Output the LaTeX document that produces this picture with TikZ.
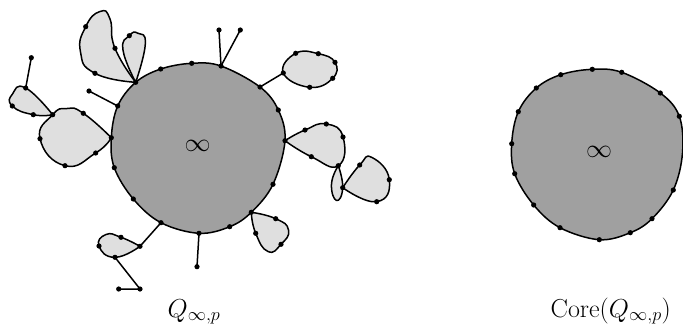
\RequirePackage{fix-cm}
\documentclass[tikz,border=0pt]{standalone}
\definecolor{blobgray}{RGB}{160,160,160}
\definecolor{lobegray}{RGB}{223,223,223}
\begin{document}
\begin{tikzpicture}[x=1pt,y=-1pt,
  edge/.style={line width=1.5pt, line join=round, line cap=round},
  blob/.style={edge, fill=blobgray},
  lobe/.style={edge, fill=lobegray},
  lbl/.style={font=\fontsize{26}{31}\selectfont, inner sep=0pt}]
\useasboundingbox (0,0) rectangle (683,325);
% left core vertices
\coordinate (L1) at (191.7,63.3);
\coordinate (L2) at (221,66);
\coordinate (L3) at (260,87);
\coordinate (L4) at (278.3,110);
\coordinate (L5) at (285,140.7);
\coordinate (L6) at (273,184.3);
\coordinate (L7) at (251.3,212.3);
\coordinate (L8) at (229.7,226.7);
\coordinate (L9) at (199,233.3);
\coordinate (L10) at (161,222.7);
\coordinate (L11) at (133.3,199);
\coordinate (L12) at (114.3,167.7);
\coordinate (L13) at (111.3,137.7);
\coordinate (L14) at (117.7,106);
\coordinate (L15) at (135.7,82.3);
\coordinate (L16) at (160.7,69);
% spikes
\coordinate (S1) at (219,30);
\coordinate (S2) at (240.3,30);
\coordinate (S3) at (89,91);
\coordinate (S4) at (31.3,57.7);
\coordinate (S5) at (197,266.7);
\coordinate (S6) at (140,289);
\coordinate (S7) at (118.7,289);
% lobe A
\coordinate (A0) at (283.3,73);
\coordinate (A1) at (295.7,53.3);
\coordinate (A2) at (318.3,53.7);
\coordinate (A3) at (335,62.3);
\coordinate (A4) at (332.7,78.3);
\coordinate (A5) at (309.7,87.3);
% lobe B
\coordinate (B1) at (305,130);
\coordinate (B2) at (326.3,124);
\coordinate (B3) at (343,137);
\coordinate (B4) at (338.3,165.7);
\coordinate (B5) at (311.3,156.7);
% petal C, lobe D
\coordinate (C1) at (342.7,187.7);
\coordinate (D1) at (359.7,165);
\coordinate (D2) at (389.3,179.7);
\coordinate (D3) at (376.7,201.7);
% lobe E
\coordinate (E1) at (275.7,218.7);
\coordinate (E2) at (281,244.3);
\coordinate (E3) at (255.7,233.3);
% lobe F
\coordinate (F0) at (140,246.3);
\coordinate (F1) at (121,237.3);
\coordinate (F2) at (99,246);
\coordinate (F3) at (115,257.3);
% lobe G
\coordinate (G1) at (83.3,113.3);
\coordinate (G2) at (52.7,114.7);
\coordinate (G3) at (40,138.7);
\coordinate (G4) at (65,165.7);
\coordinate (G5) at (95.7,153);
% lobe H
\coordinate (H1) at (33.3,114.7);
\coordinate (H2) at (12.3,106);
\coordinate (H3) at (25.7,88);
% lobe I, petal J
\coordinate (I1) at (95,73.3);
\coordinate (I2) at (85.7,26.7);
\coordinate (I3) at (115,48.3);
\coordinate (J1) at (129.3,35.7);
% right core
\coordinate (R1) at (592.3,69.3);
\coordinate (R2) at (621.7,72.3);
\coordinate (R3) at (660.3,93);
\coordinate (R4) at (679.3,116.3);
\coordinate (R5) at (673.3,190);
\coordinate (R6) at (652,218.7);
\coordinate (R7) at (630.3,232.7);
\coordinate (R8) at (599.3,239.7);
\coordinate (R9) at (560,227.7);
\coordinate (R10) at (533.7,205);
\coordinate (R11) at (514.7,173.7);
\coordinate (R12) at (511.7,143.7);
\coordinate (R13) at (518.3,111.7);
\coordinate (R14) at (536.3,88);
\coordinate (R15) at (560.7,74.7);

% lobes
\draw[lobe] plot[smooth cycle, tension=0.8] coordinates {(A0) (A1) (A2) (A3) (A4) (A5)};
\draw[lobe] plot[smooth, tension=0.9] coordinates {(L5) (B1) (B2) (B3) (B4) (B5) (L5)};
\draw[lobe] plot[smooth, tension=0.9] coordinates {(B4) (331.5,184) (336.5,200.5) (C1) (B4)};
\draw[lobe] plot[smooth, tension=0.9] coordinates {(C1) (D1) (372,157.5) (D2) (D3) (C1)};
\draw[lobe] plot[smooth, tension=0.9] coordinates {(L7) (E1) (288.5,230) (E2) (268,251.5) (E3) (L7)};
\draw[lobe] plot[smooth, tension=0.9] coordinates {(F0) (F1) (106,234.5) (F2) (F3) (F0)};
\draw[lobe] plot[smooth, tension=0.9] coordinates {(L13) (G1) (67,108.5) (G2) (G3) (G4) (G5) (L13)};
\draw[lobe] plot[smooth, tension=0.9] coordinates {(G2) (H1) (H2) (12.5,94) (H3) (G2)};
\draw[lobe] plot[smooth, tension=0.9] coordinates {(L15) (I1) (80.5,52) (I2) (100,11.5) (110,19) (I3) (L15)};
\draw[lobe] plot[smooth, tension=0.9] coordinates {(L15) (123,50) (J1) (138,33.3) (145.3,44) (L15)};
% cores
\draw[blob] plot[smooth cycle, tension=0.6] coordinates {(L1) (L2) (L3) (L4) (L5) (L6) (L7) (L8) (L9) (L10) (L11) (L12) (L13) (L14) (L15) (L16)};
\draw[blob] plot[smooth cycle, tension=0.6] coordinates {(R1) (R2) (R3) (R4) (682.5,153) (R5) (R6) (R7) (R8) (R9) (R10) (R11) (R12) (R13) (R14) (R15)};
% connectors
\draw[edge] (L2) -- (S1);
\draw[edge] (L2) -- (S2);
\draw[edge] (L14) -- (S3);
\draw[edge] (H3) -- (S4);
\draw[edge] (L9) -- (S5);
\draw[edge] (L10) -- (F0);
\draw[edge] (F3) -- (S6) -- (S7);
\draw[edge] (L3) -- (A0);
% dots
\foreach \p in {L1,L2,L3,L4,L5,L6,L7,L8,L9,L10,L11,L12,L13,L14,L15,L16,
  S1,S2,S3,S4,S5,S6,S7,A0,A1,A2,A3,A4,A5,B1,B2,B3,B4,B5,C1,D1,D2,D3,
  E1,E2,E3,F0,F1,F2,F3,G1,G2,G3,G4,G5,H1,H2,H3,I1,I2,I3,J1,
  R1,R2,R3,R4,R5,R6,R7,R8,R9,R10,R11,R12,R13,R14,R15}
  \fill (\p) circle (2.6pt);
% labels
\node[lbl] (infL) at (197.5,146) {$\infty$};
\node[lbl] (infR) at (599,151.7) {$\infty$};
\node[lbl, anchor=base west] (qlab) at (167.5,317) {$Q_{\infty,p}$};
\node[lbl, anchor=base west] (clab) at (550.5,317) {$\mathrm{Core}(Q_{\infty,p})$};
\end{tikzpicture}
\end{document}
